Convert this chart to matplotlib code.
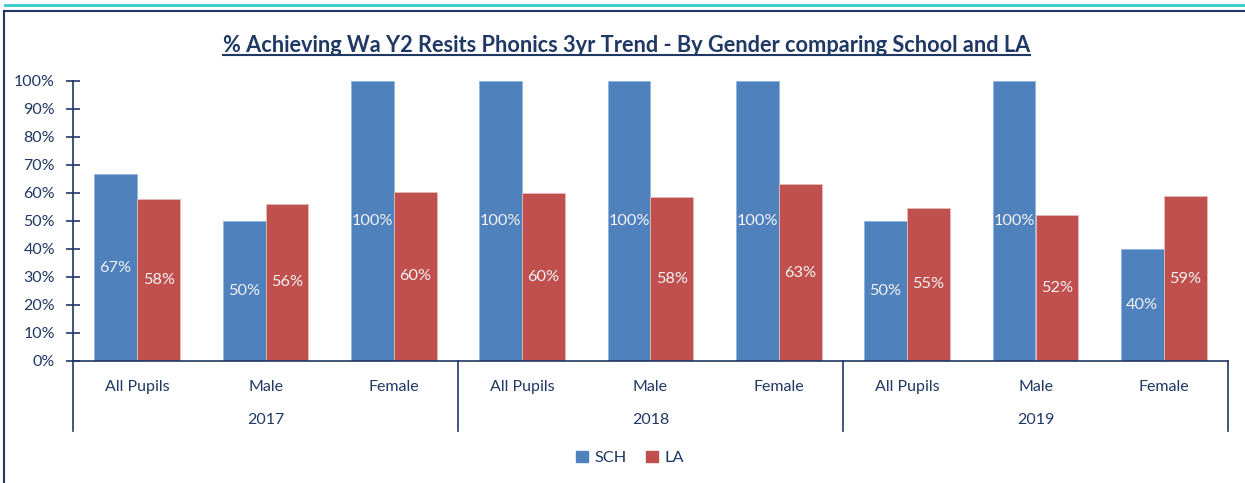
import matplotlib
matplotlib.use('Agg')
from matplotlib import pyplot as plt
from matplotlib.lines import Line2D
from matplotlib.patches import Patch
import matplotlib.transforms as mtransforms

years = ['2017', '2018', '2019']
groups = ['All Pupils', 'Male', 'Female']
categories = groups * 3
sch = [66.7, 50, 100, 100, 100, 100, 50, 100, 40]
la = [57.9, 56.1, 60.4, 60.0, 58.5, 63.1, 54.7, 52.0, 58.9]

navy = '#1F3864'
blue = '#4F81BD'
red = '#C0504D'

plt.rcParams['font.family'] = ['Lato', 'DejaVu Sans']

fig = plt.figure(figsize=(12.45, 4.83), dpi=100)
W, H = 1245, 483

# frame lines around the chart
fig.add_artist(Line2D([5 / W, 1], [1 - 5 / H, 1 - 5 / H], color='#33CCCC', lw=2, transform=fig.transFigure))
fig.add_artist(Line2D([4 / W, 1], [1 - 11 / H, 1 - 11 / H], color=navy, lw=1.5, transform=fig.transFigure))
fig.add_artist(Line2D([4 / W, 4 / W], [0, 1 - 11 / H], color=navy, lw=1.5, transform=fig.transFigure))

ax = fig.add_axes([73 / W, (H - 361) / H, 1155 / W, 280 / H])

x = list(range(len(categories)))
bw = 0.335
b1 = ax.bar([i - bw / 2 for i in x], sch, bw, color=blue, edgecolor='#8EB4E3', lw=0.6, label='SCH')
b2 = ax.bar([i + bw / 2 for i in x], la, bw, color=red, edgecolor='#E6B9B8', lw=0.6, label='LA')

for bars, vals in [(b1, sch), (b2, la)]:
    for b, v in zip(bars, vals):
        ax.text(b.get_x() + b.get_width() / 2, v / 2, '{:.0f}%'.format(v), ha='center', va='center',
                color='#F2F2F2', fontsize=11.8)

ax.set_xlim(-0.5, 8.5)
ax.set_ylim(0, 100)
ax.set_yticks(range(0, 101, 10))
ax.set_yticklabels(['{}%'.format(v) for v in range(0, 101, 10)])
ax.tick_params(axis='y', direction='inout', length=10, width=1.2, color=navy, labelcolor=navy, labelsize=11.5, pad=8)
ax.set_xticks(x)
ax.set_xticklabels(categories)
ax.tick_params(axis='x', length=0, labelcolor=navy, labelsize=11.5, pad=14)

for s in ['top', 'right']:
    ax.spines[s].set_visible(False)
for s in ['left', 'bottom']:
    ax.spines[s].set_color(navy)
    ax.spines[s].set_linewidth(1.2)

trans = mtransforms.blended_transform_factory(ax.transData, ax.transAxes)
for sep in [-0.5, 2.5, 5.5, 8.5]:
    ax.plot([sep, sep], [0, -0.25], color=navy, lw=1.2, transform=trans, clip_on=False)
for k, yr in enumerate(years):
    ax.text(3 * k + 1, -0.21, yr, ha='center', va='center', color=navy, fontsize=11.5, transform=trans)

ax.set_title('% Achieving Wa Y2 Resits Phonics 3yr Trend - By Gender comparing School and LA',
             color=navy, fontsize=15.7, fontweight='bold', pad=21, x=0.479)

handles = [Patch(color=blue, label='SCH'), Patch(color=red, label='LA')]
leg = fig.legend(handles=handles, loc='center', bbox_to_anchor=(630 / W, 1 - 458 / H), ncol=2, frameon=False,
                 handlelength=0.7, handleheight=0.7, handletextpad=0.4, columnspacing=1.2, fontsize=11.8)
for t in leg.get_texts():
    t.set_color(navy)

# underline the title
fig.canvas.draw()
bb = ax.title.get_window_extent()
fig.add_artist(Line2D([bb.x0 / W, bb.x1 / W], [(bb.y0 + 1) / H, (bb.y0 + 1) / H], color=navy, lw=1.5,
                      transform=fig.transFigure))

fig.savefig('out.png', dpi=100)
